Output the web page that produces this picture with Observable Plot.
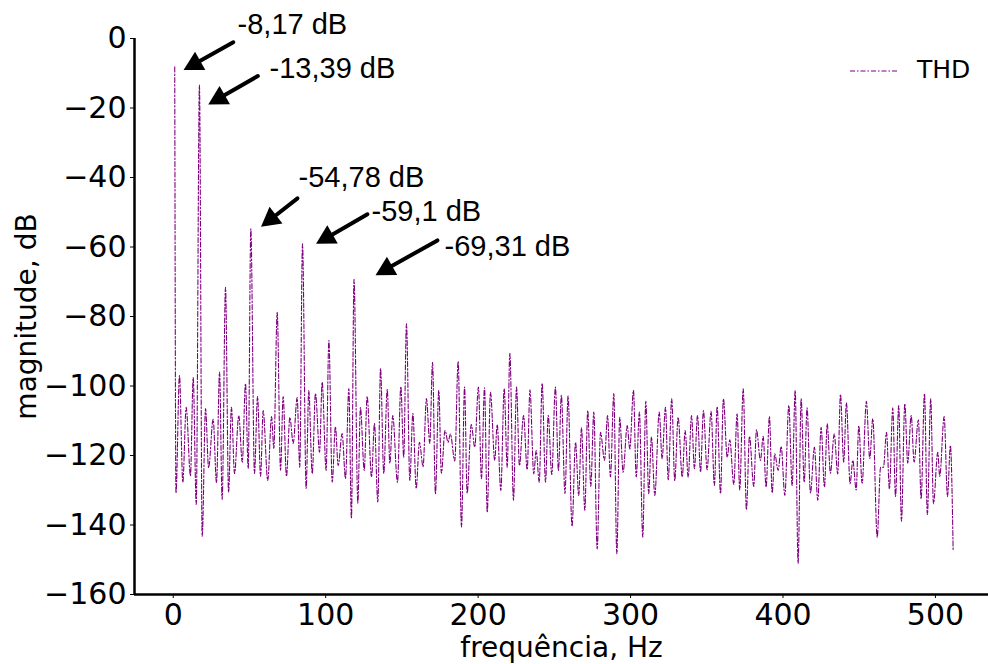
<!DOCTYPE html>
<html><head><meta charset="utf-8">
<script src="https://cdn.jsdelivr.net/npm/d3@7"></script>
<script src="https://cdn.jsdelivr.net/npm/@observablehq/plot@0.6"></script>
<style>
html,body{margin:0;padding:0;background:#fff;}
#wrap{position:relative;width:988px;height:664px;overflow:hidden;background:#fff;}
#legline{position:absolute;left:848px;top:66px;}
#legtext{position:absolute;left:917px;top:56px;font-family:"DejaVu Sans";font-size:25px;line-height:28px;color:#000;}
</style></head><body><div id="wrap"></div>
<script>
// spectrum (frequency in Hz, magnitude in dB)
const freq = [1.0, 1.8, 4.1, 6.3, 8.5, 11.3, 13.1, 15.1, 17.2, 19.0, 21.2, 23.2, 26.2, 28.4, 30.4, 32.1, 34.3, 36.3, 38.2, 40.2,
  43.0, 45.3, 47.4, 49.2, 50.9, 53.3, 55.3, 57.3, 59.0, 62.0, 64.5, 66.0, 68.2, 70.4, 72.1, 74.3, 76.5, 78.7, 81.3, 83.0,
  84.8, 87.2, 88.9, 91.2, 93.3, 96.0, 97.7, 100.3, 102.1, 104.3, 106.4, 108.2, 110.8, 113.0, 115.2, 116.9, 118.6, 121.1, 122.8, 125.3,
  127.2, 130.1, 132.0, 134.2, 136.0, 138.1, 140.4, 142.1, 144.0, 147.1, 149.3, 151.2, 153.0, 155.2, 157.2, 159.4, 161.5, 163.9, 166.1, 168.3,
  170.1, 172.0, 174.2, 175.9, 178.3, 180.3, 181.8, 184.7, 186.9, 189.1, 191.1, 192.8, 195.5, 197.8, 200.2, 202.2, 204.2, 206.0, 208.1, 210.9,
  212.5, 214.9, 217.1, 219.1, 220.8, 223.2, 225.2, 227.1, 229.8, 232.2, 234.0, 236.5, 238.1, 240.1, 242.0, 244.2, 246.0, 248.3, 250.7, 252.7,
  254.6, 257.0, 259.0, 261.6, 263.9, 266.0, 267.8, 270.0, 271.9, 273.9, 275.9, 278.1, 280.3, 282.9, 284.9, 286.8, 289.0, 291.0, 292.9, 295.1,
  297.8, 299.5, 301.9, 303.7, 305.8, 308.0, 310.0, 311.9, 313.7, 315.9, 318.8, 320.7, 322.9, 324.7, 327.0, 329.0, 331.2, 333.9, 335.8, 337.8,
  340.0, 341.9, 343.9, 345.9, 347.8, 350.2, 352.8, 355.0, 356.8, 359.0, 360.9, 363.4, 365.1, 367.7, 369.9, 371.6, 373.9, 376.0, 378.0, 380.8,
  382.6, 385.2, 387.0, 388.9, 391.1, 392.9, 394.6, 396.8, 398.8, 401.2, 403.8, 406.0, 408.0, 409.9, 411.9, 413.9, 415.8, 418.0, 420.6, 422.8,
  425.0, 427.2, 429.0, 431.1, 433.6, 435.9, 437.7, 439.8, 441.6, 444.0, 445.8, 448.0, 449.7, 451.9, 454.7, 456.9, 458.9, 461.8, 464.0, 465.9,
  467.9, 469.8, 472.0, 473.8, 475.9, 477.7, 479.9, 481.8, 484.1, 486.0, 488.8, 490.6, 492.8, 494.7, 496.9, 498.7, 501.5, 502.8, 505.7, 507.9,
  509.8, 511.6];
const mag = [-8.17, -130.8, -97.0, -127.7, -106.1, -125.8, -97.6, -134.1, -13.39, -143.3, -106.5, -123.5, -109.6, -127.8, -96.0, -132.7, -71.6, -130.6, -106.1, -125.2,
  -108.5, -121.9, -99.3, -123.7, -54.78, -125.2, -103.0, -126.0, -107.1, -127.2, -108.8, -118.0, -78.8, -124.3, -103.0, -126.0, -109.0, -116.5, -103.3, -123.4,
  -59.1, -129.5, -101.3, -125.2, -102.1, -119.1, -98.9, -124.3, -86.9, -127.7, -111.7, -122.9, -113.7, -126.6, -100.7, -138.1, -69.31, -133.7, -106.2, -124.3,
  -103.0, -126.2, -110.8, -133.4, -95.0, -125.1, -101.0, -122.2, -108.5, -127.7, -100.1, -120.5, -82.1, -127.2, -107.9, -129.5, -116.2, -123.2, -103.6, -116.5,
  -93.2, -131.0, -101.3, -125.1, -112.8, -116.2, -113.8, -121.6, -92.9, -140.6, -100.3, -130.8, -111.1, -117.6, -100.3, -126.7, -100.5, -136.3, -101.8, -121.4,
  -111.1, -130.1, -100.8, -123.4, -90.6, -132.9, -100.3, -122.9, -108.5, -124.1, -101.1, -125.3, -118.6, -127.7, -99.2, -127.7, -108.5, -125.5, -100.3, -124.3,
  -102.7, -131.0, -102.9, -140.4, -116.2, -131.5, -112.0, -135.8, -107.1, -128.9, -107.5, -146.9, -113.3, -121.4, -108.5, -126.2, -102.2, -148.3, -109.0, -124.8,
  -111.4, -118.1, -101.3, -126.2, -107.5, -143.5, -104.4, -131.0, -114.7, -131.5, -107.5, -120.9, -106.1, -127.0, -103.7, -127.2, -109.0, -126.2, -112.8, -126.2,
  -108.5, -123.8, -108.5, -124.8, -107.1, -124.1, -107.3, -128.6, -105.9, -131.0, -103.7, -120.5, -115.5, -128.3, -108.0, -129.9, -100.8, -135.6, -114.5, -128.9,
  -112.6, -121.4, -114.5, -129.1, -108.8, -130.8, -119.5, -124.3, -117.4, -131.5, -105.6, -128.6, -101.3, -151.0, -103.7, -127.7, -106.3, -130.8, -117.6, -132.9,
  -111.9, -129.1, -110.9, -125.1, -113.8, -125.3, -102.4, -121.9, -104.9, -128.1, -121.4, -129.9, -111.4, -128.0, -104.4, -120.9, -109.4, -143.5, -123.4, -123.4,
  -113.3, -129.6, -106.3, -131.8, -105.6, -138.9, -105.1, -122.2, -108.5, -121.9, -109.7, -132.5, -102.2, -137.0, -103.7, -133.9, -119.1, -126.0, -108.8, -131.8,
  -117.1, -147.1];

// annotations (like matplotlib annotate: xy = tip, arrow tail, text position), data units
const annLabels = ["-8,17 dB", "-13,39 dB", "-54,78 dB", "-59,1 dB", "-69,31 dB"];
const annTipF   = [6.8, 23.0, 57.6, 93.7, 132.7];
const annTipDb  = [-9.1, -19.0, -54.2, -59.1, -68.1];
const annTailF  = [39.4, 55.5, 81.5, 127.4, 173.3];
const annTailDb = [-1.1, -10.8, -46.0, -50.6, -58.1];
const annTextF  = [42.2, 63.2, 82.2, 130.1, 178.0];
const annTextDb = [4.0, -8.6, -40.0, -49.8, -59.9];

const xTicks = [0, 100, 200, 300, 400, 500];
const yTicks = [0, -20, -40, -60, -80, -100, -120, -140, -160];
const xDomain = [-25.4, 534.8];
const yDomain = [-160, 0];
const seriesName = "THD";

const W = 988, H = 664, mL = 134, mR = 0, mT = 38, mB = 70;

const n = Math.min(freq.length, mag.length);
const spectrum = freq.slice(0, n).map((f, i) => ({f, db: mag[i]}));

const sx = Plot.scale({x: {type: "linear", domain: xDomain, range: [mL, W - mR]}});
const sy = Plot.scale({y: {type: "linear", domain: yDomain, range: [H - mB, mT]}});
const ann = annLabels.map((label, i) => {
  const a = {label, tipF: annTipF[i], tipDb: annTipDb[i], tailF: annTailF[i], tailDb: annTailDb[i], textF: annTextF[i], textDb: annTextDb[i]};
  a.angle = Math.atan2(sy.apply(a.tipDb) - sy.apply(a.tailDb), sx.apply(a.tipF) - sx.apply(a.tailF)) * 180 / Math.PI;
  return a;
});
const headSymbol = {draw(ctx) { ctx.moveTo(0, 0); ctx.lineTo(-19, -10.5); ctx.lineTo(-19, 10.5); ctx.closePath(); }};
const minus = d => d < 0 ? "\u2212" + (-d) : String(d);

const chart = Plot.plot({
  width: W, height: H,
  marginLeft: mL, marginRight: mR, marginTop: mT, marginBottom: mB,
  style: {fontFamily: "DejaVu Sans", fontSize: "28px", color: "#000", background: "#fff", overflow: "visible"},
  x: {domain: xDomain},
  y: {domain: yDomain},
  marks: [
    Plot.axisX(xTicks, {tickSize: 4, tickPadding: 5, tickFormat: minus, fontSize: 30, label: null}),
    Plot.axisX({label: "frequência, Hz", ticks: [], tickSize: 0, labelArrow: "none", labelAnchor: "center", labelOffset: 62}),
    Plot.axisY(yTicks, {tickSize: 4, tickPadding: 4, tickFormat: minus, fontSize: 30, label: null}),
    Plot.axisY({label: "magnitude, dB", ticks: [], tickSize: 0, labelArrow: "none", labelAnchor: "center", labelOffset: 118}),
    Plot.line(spectrum, {x: "f", y: "db", stroke: "#800080", strokeWidth: 1.1, strokeDasharray: "5,2,1.5,2", curve: "monotone-x"}),
    Plot.ruleX([xDomain[0]], {stroke: "#000", strokeWidth: 2.5}),
    Plot.ruleY([yDomain[0]], {stroke: "#000", strokeWidth: 2.5}),
    Plot.arrow(ann, {x1: "tailF", y1: "tailDb", x2: "tipF", y2: "tipDb", stroke: "#000", strokeWidth: 4, headLength: 0, insetEnd: 12}),
    Plot.dot(ann, {x: "tipF", y: "tipDb", symbol: headSymbol, rotate: "angle", fill: "#000", stroke: "none", r: 5}),
    Plot.text(ann, {x: "textF", y: "textDb", text: "label", textAnchor: "start", lineAnchor: "middle", fontFamily: "'Liberation Sans', Arial, sans-serif", fontSize: 29, fill: "#000"})
  ]
});
const wrap = document.getElementById("wrap");
wrap.appendChild(chart);

// legend (inside the axes, top right)
const leg = document.createElement("div");
leg.innerHTML = `<svg id="legline" width="54" height="10"><line x1="2" y1="5" x2="50" y2="5" stroke="#800080" stroke-width="1.1" stroke-dasharray="5,2,1.5,2"/></svg><div id="legtext">${seriesName}</div>`;
wrap.appendChild(leg);
</script>
</body></html>
